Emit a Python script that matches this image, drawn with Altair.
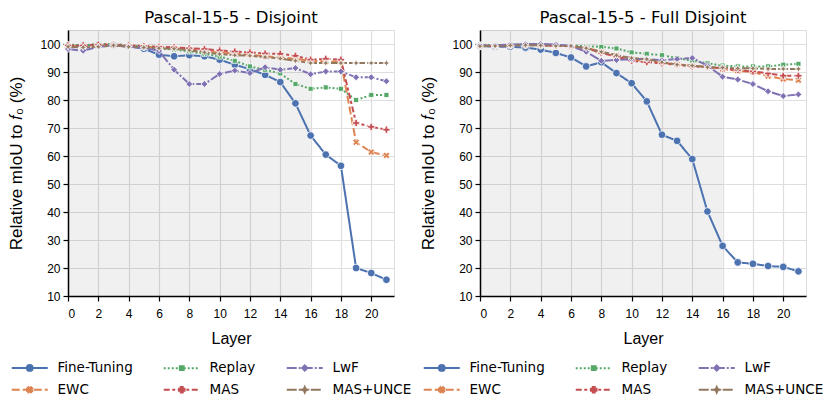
import math
import altair as alt
import pandas as pd

# ---------------- data ----------------
LAYERS = list(range(22))
METHODS = ["Fine-Tuning", "EWC", "Replay", "MAS", "LwF", "MAS+UNCE"]
PANEL_TITLES = ["Pascal-15-5 - Disjoint", "Pascal-15-5 - Full Disjoint"]
X_TICKS = list(range(0, 21, 2))
Y_TICKS = list(range(10, 101, 10))
SHADE_END = 16

# Pascal-15-5 - Disjoint
ft_dis = [99.2, 99.5, 99.8, 99.5, 99.2, 98.3, 96.2, 95.6, 96.0, 95.6, 94.4, 92.6, 91.0, 89.0, 86.4, 78.8, 67.3, 60.5, 56.5, 20.0, 18.2, 15.8]
ewc_dis = [99.3, 99.3, 99.6, 99.6, 99.3, 99.0, 98.8, 98.5, 98.0, 97.6, 97.0, 96.6, 96.2, 95.6, 95.2, 94.7, 94.0, 93.8, 93.6, 64.9, 61.4, 60.2]
replay_dis = [99.8, 99.5, 100.0, 100.0, 99.5, 99.0, 98.5, 98.0, 97.3, 96.5, 95.5, 94.0, 92.0, 90.8, 89.5, 85.7, 84.0, 84.5, 84.0, 80.0, 81.8, 81.8]
mas_dis = [99.5, 99.5, 99.8, 99.8, 99.5, 99.3, 99.0, 98.8, 98.5, 98.2, 97.7, 97.3, 97.0, 96.6, 96.5, 95.8, 94.4, 94.7, 94.4, 71.8, 70.4, 69.4]
lwf_dis = [98.2, 97.6, 99.0, 99.5, 99.0, 98.7, 97.5, 90.8, 85.7, 85.7, 89.3, 90.5, 89.6, 91.7, 90.8, 91.4, 89.2, 90.2, 90.2, 88.1, 88.1, 86.7]
unce_dis = [99.0, 98.8, 99.0, 99.5, 99.0, 98.8, 98.5, 98.3, 97.8, 97.0, 96.4, 96.0, 95.8, 95.3, 94.8, 94.0, 93.2, 93.2, 93.2, 93.2, 93.2, 93.2]

# Pascal-15-5 - Full Disjoint
ft_full = [99.3, 99.0, 99.0, 98.7, 98.0, 96.8, 95.2, 92.0, 93.5, 89.6, 86.0, 79.5, 67.6, 65.4, 58.9, 40.2, 27.9, 22.0, 21.5, 20.7, 20.4, 18.8]
ewc_full = [99.4, 99.4, 99.6, 99.7, 99.6, 99.4, 99.2, 98.6, 97.3, 95.8, 94.6, 93.8, 93.3, 92.7, 92.2, 91.9, 91.0, 90.4, 90.0, 88.5, 87.5, 87.1]
replay_full = [99.8, 99.5, 99.7, 99.8, 99.8, 99.5, 99.5, 99.2, 99.0, 98.4, 97.0, 96.5, 96.0, 95.0, 94.0, 93.1, 92.3, 92.0, 92.0, 92.0, 92.6, 92.9]
mas_full = [99.3, 99.3, 99.5, 99.6, 99.5, 99.3, 99.2, 98.5, 96.8, 95.5, 94.0, 93.5, 93.1, 92.6, 92.0, 91.7, 91.3, 90.7, 90.2, 89.5, 88.7, 88.7]
lwf_full = [99.5, 99.5, 99.8, 100.0, 100.0, 99.8, 99.3, 97.2, 94.0, 94.3, 94.6, 94.6, 94.2, 94.6, 95.0, 92.3, 88.3, 87.3, 85.7, 83.1, 81.4, 82.0]
unce_full = [99.2, 99.3, 99.5, 99.6, 99.5, 99.3, 99.3, 98.5, 97.2, 96.0, 95.0, 94.6, 93.5, 92.6, 92.3, 91.7, 91.6, 91.3, 91.3, 91.1, 91.1, 91.1]

SERIES_DIS = [ft_dis, ewc_dis, replay_dis, mas_dis, lwf_dis, unce_dis]
SERIES_FULL = [ft_full, ewc_full, replay_full, mas_full, lwf_full, unce_full]

# ---------------- styles ----------------
COLORS = {"Fine-Tuning": "#4C72B0", "EWC": "#DD8452", "Replay": "#55A868",
          "MAS": "#C44E52", "LwF": "#8172B3", "MAS+UNCE": "#937860"}
DASHES = {"Fine-Tuning": [1, 0], "EWC": [8, 3], "Replay": [2, 2],
          "MAS": [6, 2.5, 3, 2.5], "LwF": [10, 2, 2, 2], "MAS+UNCE": [10, 2, 4, 2, 4, 2]}
FONT = "DejaVu Sans"


def f(v):
    return f"{v:.3f}".rstrip("0").rstrip(".")


def poly(pts):
    return "M" + "L".join(f"{f(x)},{f(y)}" for x, y in pts) + "Z"


def circle(k):
    r = 0.72 * k
    return f"M{f(r)},0A{f(r)},{f(r)} 0 1,1 {f(-r)},0A{f(r)},{f(r)} 0 1,1 {f(r)},0Z"


def plus_pts(k):
    w, r = 0.24 * k, 0.68 * k
    return [(w, -r), (w, -w), (r, -w), (r, w), (w, w), (w, r), (-w, r), (-w, w),
            (-r, w), (-r, -w), (-w, -w), (-w, -r)]


def plus(k):
    return poly(plus_pts(k))


def xmark(k):
    c = math.cos(math.pi / 4)
    return poly([(x * c - y * c, x * c + y * c) for x, y in plus_pts(k)])


def square(k):
    s = 0.48 * k
    return poly([(-s, -s), (s, -s), (s, s), (-s, s)])


def diamond(k):
    r = 0.66 * k
    return poly([(0, -r), (r, 0), (0, r), (-r, 0)])


def star(k):
    r = 0.68 * k
    i = 0.3 * r
    return poly([(0, -r), (i, -i), (r, 0), (i, i), (0, r), (-i, i), (-r, 0), (-i, -i)])


MARKERS = {"Fine-Tuning": circle, "EWC": xmark, "Replay": square,
           "MAS": plus, "LwF": diamond, "MAS+UNCE": star}

POINT_SIZE = 110
LEG_SIZE = 100
LEG_UNIT = math.sqrt(LEG_SIZE) / 2
LEG_HALF = 18.0 / LEG_UNIT


def legend_path(m):
    segs = []
    pat = [d / LEG_UNIT for d in DASHES[m]]
    x, i, on = -LEG_HALF, 0, True
    while x < LEG_HALF - 1e-6:
        step = pat[i % len(pat)]
        x2 = min(x + step, LEG_HALF)
        if on and step > 0:
            segs.append(f"M{f(x)},0H{f(x2)}")
        x = x2
        i += 1
        on = not on
    return "".join(segs) + MARKERS[m](0.8)


def long_df(series):
    rows = []
    for m, vals in zip(METHODS, series):
        for layer, v in zip(LAYERS, vals):
            rows.append({"layer": layer, "miou": v, "method": m})
    return pd.DataFrame(rows)


shade_df = pd.DataFrame({"layer": [0], "layer_end": [SHADE_END]})

X_AX = alt.Axis(values=X_TICKS, title="Layer", grid=True, gridColor="#dedede", gridWidth=1.2,
                domainColor="black", domainWidth=1.5, tickColor="black", tickWidth=1.2,
                tickSize=5, labelFontSize=12, titleFontSize=16, titleFontWeight="normal",
                labelPadding=7, titlePadding=11)
Y_AX = alt.Axis(values=Y_TICKS, title="Relative mIoU to 𝑓₀ (%)", grid=True, gridColor="#dedede",
                gridWidth=1.2, domainColor="black", domainWidth=1.5, tickColor="black",
                tickWidth=1.2, tickSize=5, labelFontSize=12, titleFontSize=17,
                titleFontWeight="normal", labelPadding=3, titlePadding=14)
X_SC = alt.Scale(domain=[0, 21.5], nice=False, zero=False)
Y_SC = alt.Scale(domain=[10, 105], nice=False, zero=False)

leg_color_sc = alt.Scale(domain=METHODS, range=[COLORS[m] for m in METHODS])
leg_shape_sc = alt.Scale(domain=METHODS, range=[legend_path(m) for m in METHODS])


def panel(series, title):
    df = long_df(series)
    leg = alt.Legend(orient="none", legendX=-58, legendY=331, columns=3, direction="vertical",
                     title=None, labelFont=FONT, labelFontSize=13.5, labelColor="black",
                     symbolSize=LEG_SIZE, symbolStrokeWidth=2, symbolOffset=13,
                     labelOffset=21, columnPadding=26, rowPadding=7, labelLimit=200)
    layers = [alt.Chart(shade_df).mark_rect(color="black", opacity=0.06).encode(
        x=alt.X("layer:Q", scale=X_SC, axis=X_AX), x2="layer_end:Q")]
    for m in METHODS:
        base = alt.Chart(df).transform_filter(alt.datum.method == m)
        layers.append(base.mark_line(strokeWidth=2, color=COLORS[m], strokeDash=DASHES[m]).encode(
            x=alt.X("layer:Q", scale=X_SC, axis=X_AX),
            y=alt.Y("miou:Q", scale=Y_SC, axis=Y_AX),
            order="layer:Q"))
        layers.append(base.mark_point(filled=True, opacity=1, size=POINT_SIZE, fill=COLORS[m],
                                      shape=MARKERS[m](1.0), stroke="white",
                                      strokeWidth=0.8).encode(
            x=alt.X("layer:Q", scale=X_SC, axis=X_AX),
            y=alt.Y("miou:Q", scale=Y_SC, axis=Y_AX)))
    layers.append(alt.Chart(df).transform_filter("false").mark_point(
        filled=True, opacity=1, strokeWidth=2).encode(
        fill=alt.Fill("method:N", scale=leg_color_sc, legend=leg),
        stroke=alt.Stroke("method:N", scale=leg_color_sc, legend=leg),
        shape=alt.Shape("method:N", scale=leg_shape_sc, legend=leg)))
    return alt.layer(*layers).properties(
        width=326, height=266,
        title=alt.TitleParams(title, fontSize=16.5, font=FONT, fontWeight="normal",
                              color="black", offset=4))


left = panel(SERIES_DIS, PANEL_TITLES[0])
right = panel(SERIES_FULL, PANEL_TITLES[1])

chart = alt.hconcat(left, right, spacing=6).resolve_scale(
    fill="independent", stroke="independent", shape="independent"
).resolve_legend(
    fill="independent", stroke="independent", shape="independent"
).properties(
    padding={"left": 7, "top": 9, "right": 0, "bottom": 0}
).configure_view(stroke=None).configure_axis(
    labelFont=FONT, titleFont=FONT, labelColor="black", titleColor="black",
    titleFontWeight="normal"
).configure(background="white")

chart.save("out.html", embed_options={"renderer": "svg", "actions": False})
